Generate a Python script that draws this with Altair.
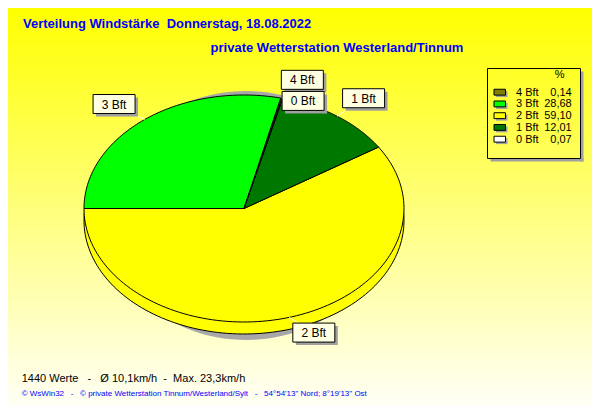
import altair as alt
import pandas as pd

# ---------------- data ----------------
LABELS = ["4 Bft", "3 Bft", "2 Bft", "1 Bft", "0 Bft"]
PERCENT = [0.14, 28.68, 59.10, 12.01, 0.07]
COLORS = ["#808000", "#00FF00", "#FFFF00", "#007800", "#FFFFFF"]

TITLE = "Verteilung Windstärke  Donnerstag, 18.08.2022"
SUBTITLE = "private Wetterstation Westerland/Tinnum"
FOOT1 = "1440 Werte   -   Ø 10,1km/h  -  Max. 23,3km/h"
FOOT2 = "© WsWin32   -   © private Wetterstation Tinnum/Westerland/Sylt   -   54°54'13\" Nord; 8°19'13\" Ost"
LEGEND_HEADER = "%"

# ---------------- layout / style ----------------
LABEL_NUDGE = {"4 Bft": (21, -18.3), "3 Bft": (-30.6, -15.5), "2 Bft": (24.7, 15.2),
               "1 Bft": (26.4, -18), "0 Bft": (20.7, 2.6)}
W, H = 584, 398
RX, RY = 160, 113.5
XS = alt.Scale(domain=[-1, 1], range=[76, 396], nice=False, zero=False)
YS = alt.Scale(domain=[-1, 1], range=[314, 87], nice=False, zero=False)
LS = alt.Scale(domain=[0, 4], range=[87.7, 134.7], nice=False, zero=False)
DEPTH = 12
START_DEG = 76.25
N = 120
FONT = "Liberation Sans"
BLUE = "#0000FF"


def nb(s):
    return s.replace(" ", "\u00a0")


df = pd.DataFrame({
    "label": LABELS,
    "pct": PERCENT,
    "color": COLORS,
    "idx": list(range(len(LABELS))),
    "ndx": [LABEL_NUDGE[l][0] for l in LABELS],
    "ndy": [LABEL_NUDGE[l][1] for l in LABELS],
})

pie = alt.Chart(df).transform_window(
    cum="sum(pct)", sort=[alt.SortField("idx")], frame=[None, 0]
).transform_calculate(
    a0=f"({START_DEG} + (datum.cum - datum.pct) * 3.6) * PI / 180",
    a1=f"({START_DEG} + datum.cum * 3.6) * PI / 180",
).transform_calculate(
    mid="(datum.a0 + datum.a1) / 2"
)


def face(shift_px):
    return pie.transform_calculate(
        ks=f"sequence(0, {N + 2})"
    ).transform_flatten(["ks"]).transform_calculate(
        t=f"datum.a0 + (datum.a1 - datum.a0) * (datum.ks - 1) / {N - 1}",
    ).transform_calculate(
        px=f"(datum.ks == 0 || datum.ks == {N + 1}) ? 0 : cos(datum.t)",
        py=f"((datum.ks == 0 || datum.ks == {N + 1}) ? 0 : sin(datum.t)) - {shift_px / RY}",
    ).mark_line(stroke="black", strokeWidth=1, strokeJoin="round").encode(
        x=alt.X("px:Q", scale=XS, axis=None),
        y=alt.Y("py:Q", scale=YS, axis=None),
        fill=alt.Fill("color:N", scale=None),
        detail="label:N",
        order=alt.Order("ks:Q"),
    )


background = alt.Chart(pd.DataFrame({"z": [0]})).mark_rect(
    fill=alt.LinearGradient(
        gradient="linear",
        stops=[alt.GradientStop(color="#FFFF00", offset=0),
               alt.GradientStop(color="#FFFFF6", offset=1)],
        x1=0, x2=0, y1=0, y2=1,
    )
).encode(x=alt.value(0), x2=alt.value(W), y=alt.value(0), y2=alt.value(H))

shadow = alt.Chart(alt.sequence(0, 121, as_="s")).transform_calculate(
    t="datum.s * 2 * PI / 120"
).transform_calculate(
    px="0.0125 + 0.875 * cos(datum.t)",
    py="-0.0617 + 1.088 * sin(datum.t)",
).mark_line(fill="#A8A8A8", stroke="#A8A8A8").encode(
    x=alt.X("px:Q", scale=XS, axis=None),
    y=alt.Y("py:Q", scale=YS, axis=None),
    order=alt.Order("s:Q"),
)

bottom = face(DEPTH)
top = face(0)

lab = pie.transform_calculate(
    ex="cos(datum.mid)",
    ey="sin(datum.mid)",
).transform_calculate(
    lx=f"datum.ex + datum.ndx / {RX}",
    ly=f"datum.ey - datum.ndy / {RY}",
).transform_calculate(
    bx0=f"datum.lx - 21 / {RX}",
    bx1=f"datum.lx + 21 / {RX}",
    by0=f"datum.ly + 9.5 / {RY}",
    by1=f"datum.ly - 9.5 / {RY}",
).transform_calculate(
    sx0=f"datum.bx0 + 3 / {RX}",
    sx1=f"datum.bx1 + 3 / {RX}",
    sy0=f"datum.by0 - 3 / {RY}",
    sy1=f"datum.by1 - 3 / {RY}",
)

leaders = lab.mark_rule(color="#FFFFE8", strokeWidth=1).encode(
    x=alt.X("ex:Q", scale=XS, axis=None), y=alt.Y("ey:Q", scale=YS, axis=None),
    x2="lx:Q", y2="ly:Q",
)
box_shadow = lab.mark_rect(fill="#A0A0A0").encode(
    x=alt.X("sx0:Q", scale=XS, axis=None), x2="sx1:Q",
    y=alt.Y("sy0:Q", scale=YS, axis=None), y2="sy1:Q",
)
boxes = lab.mark_rect(fill="#FFFFE1", stroke="black", strokeWidth=1).encode(
    x=alt.X("bx0:Q", scale=XS, axis=None), x2="bx1:Q",
    y=alt.Y("by0:Q", scale=YS, axis=None), y2="by1:Q",
)
box_text = lab.mark_text(font=FONT, fontSize=12, color="black", align="center",
                         baseline="alphabetic", dy=4.5).encode(
    x=alt.X("lx:Q", scale=XS, axis=None),
    y=alt.Y("ly:Q", scale=YS, axis=None),
    text="label:N",
)

# legend
leg = alt.Chart(df).transform_calculate(
    s0="datum.idx - 0.55", s1="datum.idx - 0.05",
    vtxt="replace(format(datum.pct, '.2f'), '.', ',')",
).transform_calculate(
    h0="datum.s0 + 0.17", h1="datum.s1 + 0.17",
)
leg_shadow_r = alt.Chart(pd.DataFrame({"z": [0]})).mark_rect(fill="#A0A0A0").encode(
    x=alt.value(572), x2=alt.value(575.5), y=alt.value(63.5), y2=alt.value(153.5))
leg_shadow_b = alt.Chart(pd.DataFrame({"z": [0]})).mark_rect(fill="#A0A0A0").encode(
    x=alt.value(482.5), x2=alt.value(575.5), y=alt.value(150), y2=alt.value(153.5))
leg_box = alt.Chart(pd.DataFrame({"z": [0]})).mark_rect(
    fillOpacity=0, stroke="black", strokeWidth=1).encode(
    x=alt.value(479.5), x2=alt.value(572.5), y=alt.value(60.5), y2=alt.value(150.5))
sw_shadow = leg.mark_rect(fill="#A0A0A0").encode(
    x=alt.value(488), x2=alt.value(499.5),
    y=alt.Y("h0:Q", scale=LS, axis=None), y2="h1:Q")
swatch = leg.mark_rect(stroke="black", strokeWidth=1).encode(
    x=alt.value(486), x2=alt.value(497.5),
    y=alt.Y("s0:Q", scale=LS, axis=None), y2="s1:Q",
    fill=alt.Fill("color:N", scale=None))
leg_lab = leg.mark_text(font=FONT, fontSize=11, color="black", align="left",
                        baseline="alphabetic").encode(
    x=alt.value(508), y=alt.Y("idx:Q", scale=LS, axis=None), text="label:N")
leg_val = leg.mark_text(font=FONT, fontSize=11, color="black", align="right",
                        baseline="alphabetic").encode(
    x=alt.value(563.7), y=alt.Y("idx:Q", scale=LS, axis=None), text="vtxt:N")


def txt(s, x, y, size, color, weight="normal", align="left"):
    return alt.Chart(pd.DataFrame({"t": [nb(s)]})).mark_text(
        font=FONT, fontSize=size, color=color, fontWeight=weight, align=align,
        baseline="alphabetic").encode(x=alt.value(x), y=alt.value(y), text="t:N")


texts = [
    txt(TITLE, 15, 20.3, 13, BLUE, "bold"),
    txt(SUBTITLE, 202.6, 43.7, 13, BLUE, "bold"),
    txt(LEGEND_HEADER, 551.7, 70.3, 11, "black", align="center"),
    txt(FOOT1, 13.7, 373.7, 11, "black"),
    txt(FOOT2, 13.7, 387.7, 8, BLUE),
]

chart = alt.layer(
    background, shadow, bottom, top, leaders, box_shadow, boxes, box_text,
    leg_shadow_r, leg_shadow_b, leg_box, sw_shadow, swatch, leg_lab, leg_val,
    *texts,
).resolve_scale(
    x="independent", y="independent"
).properties(
    width=W, height=H, padding=0, autosize=alt.AutoSizeParams(type="none")
).configure_view(strokeWidth=0)

chart.save("out.html", embed_options={"renderer": "svg", "actions": False})
